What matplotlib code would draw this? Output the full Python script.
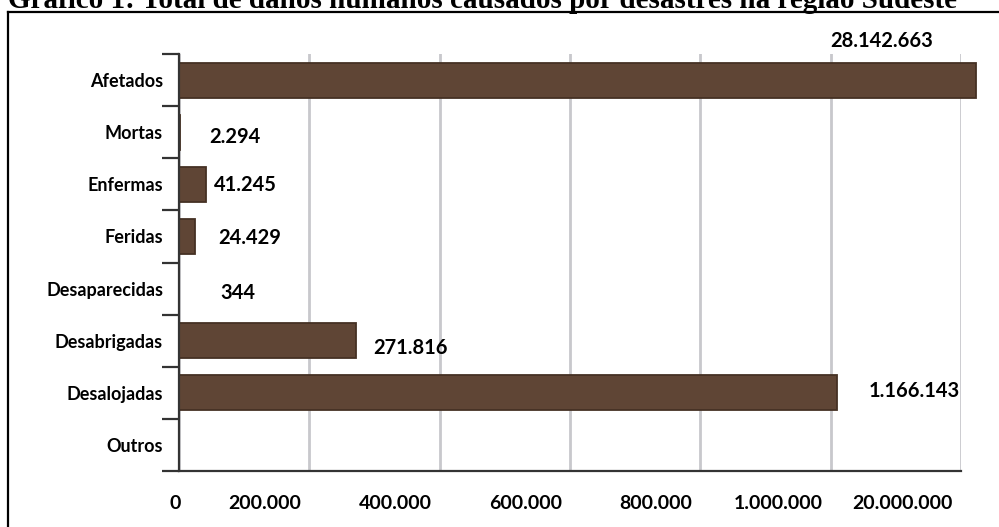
import numpy as np
import matplotlib
matplotlib.use("Agg")
import matplotlib.pyplot as plt
from matplotlib.lines import Line2D
from matplotlib.transforms import ScaledTranslation

plt.rcParams['font.family'] = ['Lato', 'DejaVu Sans']

titulo = "Gráfico 1: Total de danos humanos causados por desastres na região Sudeste"
categorias = ["Afetados", "Mortas", "Enfermas", "Feridas", "Desaparecidas",
              "Desabrigadas", "Desalojadas", "Outros"]
valores = [28142663, 2294, 41245, 24429, 344, 271816, 1166143, 0]
rotulos = ["28.142.663", "2.294", "41.245", "24.429", "344", "271.816", "1.166.143", ""]
ticks_x = [0, 200000, 400000, 600000, 800000, 1000000, 20000000]
ticks_lab = ["0", "200.000", "400.000", "600.000", "800.000", "1.000.000", "20.000.000"]

# where each value label sits relative to the end of its bar (pixels)
desloc = [(-94, 39), (29, -5), (8, -1), (23, -2), (41, -4), (17, -7), (31, 2), (0, 0)]


# axis is linear up to 1 million, then squeezed (log) up to 20 million
def fwd(x):
    x = np.asarray(x, dtype=float)
    comp = 5 + np.log10(np.maximum(x, 1e6) / 1e6) / np.log10(20)
    return np.where(x <= 1e6, x / 2e5, comp)


def inv(u):
    u = np.asarray(u, dtype=float)
    return np.where(u <= 5, u * 2e5, 1e6 * 20.0 ** (np.minimum(u, 50) - 5))


fig = plt.figure(figsize=(9.99, 5.27), dpi=100)
ax = fig.add_axes([179/999, 1 - 471/527, 782/999, 417/527])
ax.set_xscale('function', functions=(fwd, inv))
ax.set_xlim(0, 2e7)
ax.set_ylim(7.5, -0.5)

y = np.arange(len(categorias))
ax.barh(y, valores, height=0.67, color='#5f4535', edgecolor='#453124',
        linewidth=1.3, clip_on=False, zorder=3)

ax.set_xticks(ticks_x)
ax.set_xticklabels(ticks_lab, fontsize=14, fontweight='bold')
ax.tick_params(axis='x', length=0, pad=17, colors='black')
ax.grid(axis='x', color='#c8c8cc', linewidth=2)
ax.set_axisbelow(True)
xlabs = ax.get_xticklabels()
xlabs[0].set_transform(xlabs[0].get_transform() + ScaledTranslation(-4/100, 0, fig.dpi_scale_trans))
for lab in xlabs[1:]:
    lab.set_ha('right')
    lab.set_transform(lab.get_transform() + ScaledTranslation(-8/100, 0, fig.dpi_scale_trans))

ax.set_yticks(y)
ax.set_yticklabels(categorias, fontsize=13, fontweight='bold')
ax.tick_params(axis='y', which='major', length=0, pad=11.5)
ax.set_yticks(np.arange(-0.5, 8, 1), minor=True)
ax.tick_params(axis='y', which='minor', length=12.2, width=1.6, color='#333333', direction='out')

for s in ['top', 'right']:
    ax.spines[s].set_visible(False)
for s in ['left', 'bottom']:
    ax.spines[s].set_color('#333333')
    ax.spines[s].set_linewidth(1.6)
    ax.spines[s].set_zorder(4)

for i, (v, r) in enumerate(zip(valores, rotulos)):
    if r:
        ax.annotate(r, xy=(v, i), xytext=desloc[i], textcoords='offset pixels',
                    ha='center' if i == 0 else 'left', va='center',
                    fontsize=14.5, fontweight='bold', annotation_clip=False)

# frame around the chart and the (cut) caption on top
fig.add_artist(Line2D([8/999, 1], [1 - 12/527] * 2, color='black', lw=1.6, transform=fig.transFigure))
fig.add_artist(Line2D([8/999] * 2, [0, 1 - 12/527], color='black', lw=1.6, transform=fig.transFigure))
fig.text(8/999, 1 - 8/527, titulo, family=['Liberation Serif'], fontweight='bold',
         fontsize=21, va='baseline', ha='left')

fig.savefig('out.png', dpi=100)
